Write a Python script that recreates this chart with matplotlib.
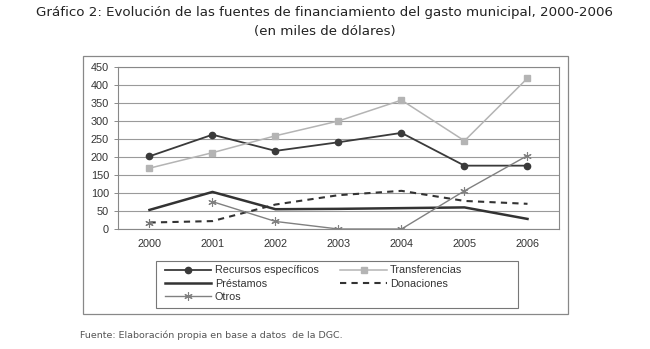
import numpy as np
import matplotlib.pyplot as plt
from matplotlib.patches import Rectangle

anios = ['2000', '2001', '2002', '2003', '2004', '2005', '2006']
recursos = [202, 262, 217, 241, 267, 176, 176]
transferencias = [169, 212, 259, 300, 358, 245, 419]
prestamos = [53, 103, 55, 56, 58, 60, 28]
donaciones = [18, 22, 68, 94, 106, 78, 70]
otros = [np.nan, 76, 21, 0, 0, 106, 204]

police = 7.8
plt.rcParams['font.family'] = ['Liberation Sans', 'DejaVu Sans']
fig = plt.figure(figsize=(6.5, 3.49), dpi=100)
ax = fig.add_axes([0.1815, 0.3438, 0.6785, 0.4642])
x = np.arange(len(anios))

l1, = ax.plot(x, recursos, color='#3a3a3a', lw=1.3, marker='o', ms=4.5,
              label='Recursos específicos')
l2, = ax.plot(x, transferencias, color='#b4b4b4', lw=1.1, marker='s', ms=4,
              label='Transferencias')
l3, = ax.plot(x, prestamos, color='#333333', lw=1.8, label='Préstamos')
l4, = ax.plot(x, donaciones, color='#333333', lw=1.5, ls=(0, (3, 2.5)),
              label='Donaciones')
ax.plot(x[:1], donaciones[:1], ls='none', marker=(6, 2, 0), ms=6,
        color='#777777', mew=0.8)
l5, = ax.plot(x, otros, color='#808080', lw=1.0, marker=(6, 2, 0), ms=6,
              mew=0.8, label='Otros')

ax.set_xlim(-0.5, 6.5)
ax.set_ylim(0, 450)
ax.set_yticks(np.arange(0, 451, 50))
ax.set_xticks(x)
ax.set_xticklabels(anios)
ax.tick_params(axis='x', length=0, pad=7, labelsize=police, labelcolor='#333333')
ax.tick_params(axis='y', length=3, width=0.6, color='#777777', labelsize=police,
               labelcolor='#333333')
ax.grid(axis='y', color='#9a9a9a', lw=0.8)
ax.set_axisbelow(True)
for s in ax.spines.values():
    s.set_color('#888888')
    s.set_linewidth(0.8)

# cadre exterieur + cadre de la legende
fig.patches.append(Rectangle((0.1277, 0.1003), 0.746, 0.739, transform=fig.transFigure,
                             fill=False, edgecolor='#888888', lw=0.9))
fig.patches.append(Rectangle((0.24, 0.1175), 0.557, 0.1347, transform=fig.transFigure,
                             fill=False, edgecolor='#777777', lw=0.8))

leg = fig.legend([l1, l3, l5, l2, l4],
                 ['Recursos específicos', 'Préstamos', 'Otros', 'Transferencias', 'Donaciones'],
                 ncol=2, loc='upper left', bbox_to_anchor=(0.242, 0.261),
                 fontsize=police, frameon=False,
                 handlelength=4.3, labelspacing=0.3, borderpad=0.2, handletextpad=0.3,
                 columnspacing=2.0)
for t in leg.get_texts():
    t.set_color('#333333')

fig.text(0.5, 0.963, 'Gráfico 2: Evolución de las fuentes de financiamiento del gasto municipal, 2000-2006',
         ha='center', va='center', fontsize=9.6, color='#222222', family='DejaVu Sans')
fig.text(0.5, 0.91, '(en miles de dólares)', ha='center', va='center', fontsize=9.6,
         color='#222222', family='DejaVu Sans')
fig.text(0.123, 0.04, 'Fuente: Elaboración propia en base a datos  de la DGC.',
         ha='left', va='center', fontsize=6.8, color='#555555', family='DejaVu Sans')

fig.savefig('out.png', dpi=100)
